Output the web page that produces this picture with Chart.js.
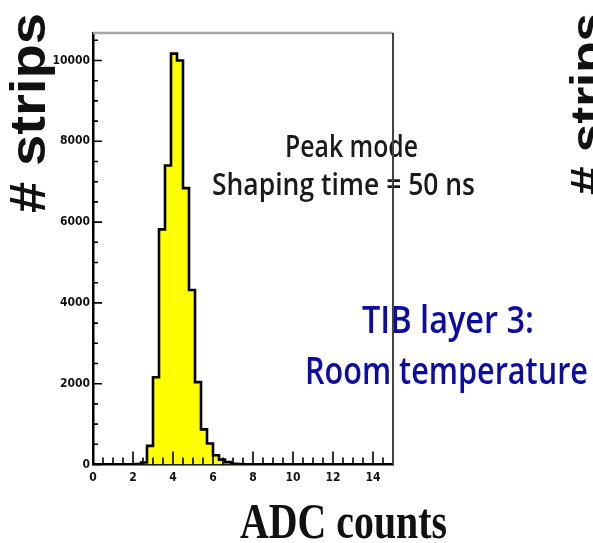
<!DOCTYPE html>
<html>
<head>
<meta charset="utf-8">
<script src="https://cdn.jsdelivr.net/npm/chart.js@4.4.0/dist/chart.umd.min.js"></script>
<style>
  html, body { margin: 0; padding: 0; background: #fff; }
  canvas { display: block; }
</style>
</head>
<body>
<canvas id="adcChart" width="593" height="543"></canvas>
<script>
// ADC counts per strip, 50 bins of 0.3 from 0 to 15
const binWidth = 0.3;
const stripCounts = [
  0, 0, 0, 0, 0, 0, 0, 10, 50, 460,
  2160, 5820, 7400, 10170, 10000, 6840, 4320, 2040, 870, 520,
  230, 120, 60, 20, 10, 0, 0, 0, 0, 0,
  0, 0, 0, 0, 0, 0, 0, 0, 0, 0,
  0, 0, 0, 0, 0, 0, 0, 0, 0, 0
];
const xRange = [0, 15];
const yRange = [0, 10680];
const xTickValues = [0, 2, 4, 6, 8, 10, 12, 14];
const yTickValues = [0, 2000, 4000, 6000, 8000, 10000];
const xMinorStep = 0.5;
const yMinorStep = 500;

const xTitle = 'ADC counts';
const yTitle = '# strips';
const modeLines = ['Peak mode', 'Shaping time = 50 ns'];
const layerLines = ['TIB layer 3:', 'Room temperature'];

// histogram outline: one point per bin left edge, closed at the right end
const histPoints = stripCounts.map((c, i) => ({ x: i * binWidth, y: c }));
histPoints.push({ x: stripCounts.length * binWidth, y: 0 });

const tickFont = { family: "'DejaVu Sans Condensed', 'Liberation Sans Narrow', sans-serif", size: 12, weight: 'bold' };

// text squeezed or stretched to a given width
function fitText(ctx, text, x, y, width, font, color, angle) {
  ctx.save();
  ctx.font = font;
  ctx.fillStyle = color;
  ctx.textAlign = 'left';
  ctx.textBaseline = 'alphabetic';
  const sx = width / ctx.measureText(text).width;
  ctx.translate(x, y);
  if (angle) ctx.rotate(angle);
  ctx.scale(sx, 1);
  ctx.fillText(text, 0, 0);
  ctx.restore();
}

const decorPlugin = {
  id: 'decor',
  afterDraw(chart) {
    const ctx = chart.ctx;
    const xs = chart.scales.x, ys = chart.scales.y;
    const area = chart.chartArea;

    // axis titles
    fitText(ctx, yTitle, 45, 213, 200, "bold 50px 'Liberation Sans', Arial, sans-serif", '#111', -Math.PI / 2);
    fitText(ctx, yTitle, 603, 195, 182, "bold 46px 'Liberation Sans', Arial, sans-serif", '#111', -Math.PI / 2);
    fitText(ctx, xTitle, 240, 538, 207, "bold 50px 'Liberation Serif', 'Times New Roman', serif", '#111');

    // run conditions
    const labelFont = "600 30px 'Open Sans', 'Noto Sans', sans-serif";
    const layerFont = "600 38px 'Open Sans', 'Noto Sans', sans-serif";
    fitText(ctx, modeLines[0], 285, 157, 133, labelFont, '#1a1a1a');
    fitText(ctx, modeLines[1], 212, 195, 263, labelFont, '#1a1a1a');
    fitText(ctx, layerLines[0], 362, 333, 172, layerFont, '#0c0ca0');
    fitText(ctx, layerLines[1], 305, 383.5, 283, layerFont, '#0c0ca0');

    // inward tick marks
    ctx.save();
    ctx.strokeStyle = '#000';
    ctx.lineWidth = 1.6;
    ctx.beginPath();
    for (let v = xRange[0]; v <= xRange[1] + 1e-9; v += xMinorStep) {
      const px = xs.getPixelForValue(v);
      const len = xTickValues.includes(v) ? 13 : 7;
      ctx.moveTo(px, area.bottom);
      ctx.lineTo(px, area.bottom - len);
    }
    for (let v = yRange[0]; v <= yRange[1]; v += yMinorStep) {
      const py = ys.getPixelForValue(v);
      const len = yTickValues.includes(v) ? 9 : 5;
      ctx.moveTo(area.left, py);
      ctx.lineTo(area.left + len, py);
    }
    ctx.stroke();

    // frame top and right
    ctx.strokeStyle = '#a8a8a8';
    ctx.lineWidth = 2.5;
    ctx.beginPath();
    ctx.moveTo(area.left, area.top);
    ctx.lineTo(area.right, area.top);
    ctx.stroke();
    ctx.strokeStyle = '#444';
    ctx.lineWidth = 2;
    ctx.beginPath();
    ctx.moveTo(area.right, area.top);
    ctx.lineTo(area.right, area.bottom);
    ctx.stroke();
    ctx.restore();
  }
};

new Chart(document.getElementById('adcChart'), {
  type: 'line',
  data: {
    datasets: [{
      data: histPoints,
      stepped: 'before',
      fill: 'origin',
      backgroundColor: '#ffff00',
      borderColor: '#000',
      borderWidth: 2.6,
      pointRadius: 0,
      tension: 0
    }]
  },
  options: {
    responsive: false,
    animation: false,
    devicePixelRatio: 1,
    layout: { padding: { left: 0, right: 200, top: 33, bottom: 0 } },
    plugins: {
      legend: { display: false },
      tooltip: { enabled: false }
    },
    scales: {
      x: {
        type: 'linear',
        min: xRange[0],
        max: xRange[1],
        z: 1,
        afterBuildTicks: s => { s.ticks = xTickValues.map(v => ({ value: v })); },
        afterFit: s => { s.height = 78.5; },
        grid: { display: false, drawTicks: false },
        border: { display: true, color: '#000', width: 2.5 },
        ticks: { font: tickFont, color: '#111', padding: 6, maxRotation: 0, autoSkip: false, callback: v => String(v) }
      },
      y: {
        type: 'linear',
        min: yRange[0],
        max: yRange[1],
        z: 1,
        afterBuildTicks: s => { s.ticks = yTickValues.map(v => ({ value: v })); },
        afterFit: s => { s.width = 93; },
        grid: { display: false, drawTicks: false },
        border: { display: true, color: '#000', width: 2.5 },
        ticks: { font: tickFont, color: '#111', padding: 3, autoSkip: false, callback: v => String(v) }
      }
    }
  },
  plugins: [decorPlugin]
});
</script>
</body>
</html>
